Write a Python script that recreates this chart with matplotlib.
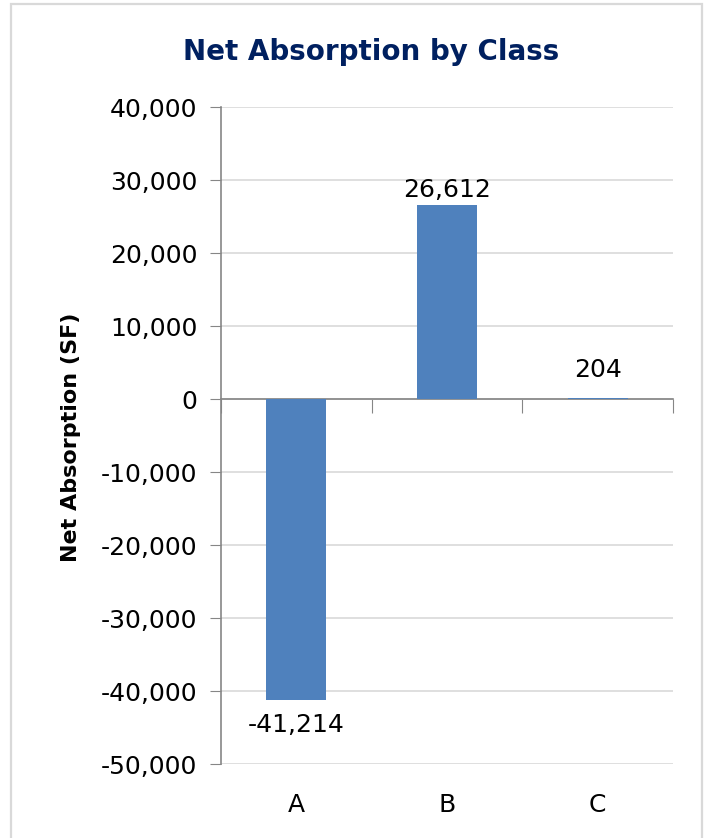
import matplotlib.pyplot as plt
from matplotlib.patches import Rectangle
from matplotlib.ticker import FuncFormatter
import numpy as np

# net absorption per building class (SF)
classes = ['A', 'B', 'C']
absorption = [-41214, 26612, 204]

bar_color = '#4F81BD'
axis_gray = '#868686'
grid_gray = '#D9D9D9'
fs = 18

fig = plt.figure(figsize=(7.07, 8.38), dpi=100)
ax = fig.add_axes([0.3126, 0.0883, 0.6393, 0.784])

x = np.arange(len(classes))
ax.bar(x, absorption, width=0.4, color=bar_color, zorder=3)

ax.set_xlim(-0.5, len(classes) - 0.5)
ax.set_ylim(-50000, 40000)
ax.set_yticks(np.arange(-50000, 40001, 10000))
ax.yaxis.set_major_formatter(FuncFormatter(lambda v, p: f'{int(v):,}'))
ax.tick_params(axis='y', labelsize=fs, length=8, color=axis_gray, pad=9)

# horizontal axis sits at zero, ticks mark the category boundaries
ax.spines['bottom'].set_position(('data', 0))
ax.set_xticks(np.arange(-0.5, len(classes), 1.0))
ax.set_xticklabels([])
ax.tick_params(axis='x', length=10, color=axis_gray, direction='out')
for sp in ['top', 'right']:
    ax.spines[sp].set_visible(False)
for sp in ['left', 'bottom']:
    ax.spines[sp].set_color(axis_gray)
    ax.spines[sp].set_linewidth(1.2)

ax.yaxis.grid(True, color=grid_gray, linewidth=1.2, zorder=0)
ax.set_axisbelow(True)

for xi, name in zip(x, classes):
    ax.text(xi, -0.063, name, transform=ax.get_xaxis_transform(),
            ha='center', va='center', fontsize=fs)

# value labels, pixel offsets from the bar end
label_offsets = [-13, 8, 21]
for xi, v, off in zip(x, absorption, label_offsets):
    ax.annotate(f'{v:,}', (xi, v), xytext=(0, off), textcoords='offset pixels',
                ha='center', va='baseline' if v >= 0 else 'top', fontsize=fs)

fig.text(71 / 707, 1 - 437 / 838, 'Net Absorption (SF)', rotation=90,
         ha='center', va='center', fontsize=16, fontweight='bold')

fig.text(371 / 707, 1 - 52 / 838, 'Net Absorption by Class', ha='center', va='center',
         fontsize=20, fontweight='bold', color='#002060')

# frame around the chart area, open at the bottom edge
border = Rectangle((11 / 707, -0.05), 691 / 707, 1.05 - 4 / 838,
                   transform=fig.transFigure, facecolor='none',
                   edgecolor=grid_gray, linewidth=1.6)
fig.patches.append(border)

fig.savefig('out.png', dpi=100)
